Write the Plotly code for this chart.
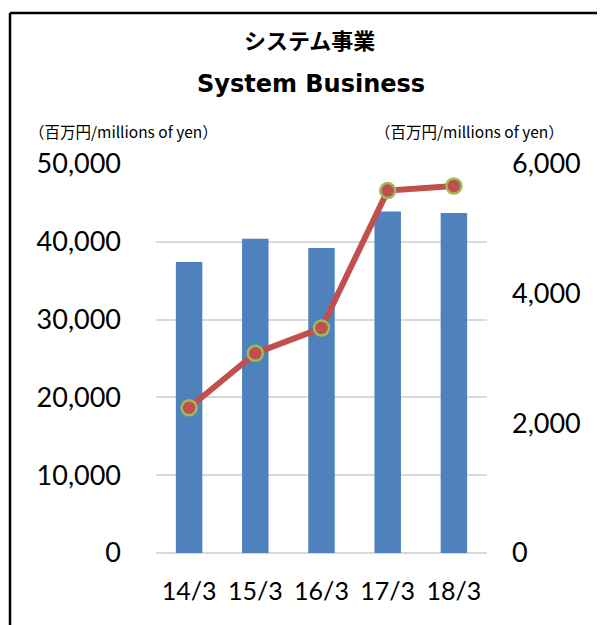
import plotly.graph_objects as go

categories = ["14/3", "15/3", "16/3", "17/3", "18/3"]
sales = [37400, 40400, 39200, 43900, 43700]          # left axis, bars
profit = [2240, 3080, 3470, 5590, 5660]              # right axis, line
left_ticks = [0, 10000, 20000, 30000, 40000, 50000]
right_ticks = [0, 2000, 4000, 6000]

# page has an 8px body margin; work in page pixels and convert
O = 8
W, H = 605, 625
L, R, T, B = 156 - O, 605 - (487 - O), 164 - O, 625 - (553 - O)
pw, ph = W - L - R, H - T - B

def px(x):
    return (x - O - L) / pw

def py(y):
    return (H - B - (y - O)) / ph

fig = go.Figure()
fig.add_trace(go.Bar(x=categories, y=sales, marker=dict(color="#4F81BD", line=dict(width=0)),
                     yaxis="y", hoverinfo="skip"))
fig.add_trace(go.Scatter(x=categories, y=profit, yaxis="y2", mode="lines+markers",
                         line=dict(color="#C0504D", width=6),
                         marker=dict(size=15, color="#C0504D", line=dict(color="#9BBB59", width=2.5))))

tick_font = dict(family="Lato, Open Sans, sans-serif", size=27, color="#000000")

fig.update_layout(
    width=W, height=H,
    margin=dict(l=L, r=R, t=T, b=B),
    paper_bgcolor="white", plot_bgcolor="white",
    showlegend=False,
    bargap=0.6,
    xaxis=dict(showgrid=False, showline=False, zeroline=False, ticks="",
               tickfont=dict(family="Lato, Open Sans, sans-serif", size=25, color="#000000"),
               ticklabelstandoff=21),
    yaxis=dict(range=[0, 50000], tickvals=left_ticks, tickformat=",", showgrid=True,
               gridcolor="#D9D9D9", gridwidth=2, zeroline=True, zerolinecolor="#D9D9D9",
               zerolinewidth=2, showline=False, ticks="", tickfont=tick_font,
               ticklabelstandoff=34),
    yaxis2=dict(range=[0, 6000], tickvals=right_ticks, tickformat=",", overlaying="y",
                side="right", showgrid=False, zeroline=False, showline=False, ticks="",
                tickfont=tick_font, ticklabelstandoff=24),
)

ann_font_jp = "Noto Sans CJK JP, sans-serif"
common = dict(xref="paper", yref="paper", showarrow=False, xanchor="center", yanchor="middle")
fig.add_annotation(text="<b>システム事業</b>", x=px(309), y=py(39),
                   font=dict(family=ann_font_jp, size=22, color="#000000"), **common)
fig.add_annotation(text="<b>System Business</b>", x=px(311), y=py(84),
                   font=dict(family="DejaVu Sans, sans-serif", size=24, color="#000000"), **common)
fig.add_annotation(text="（百万円/millions of yen）", x=px(123), y=py(131),
                   font=dict(family=ann_font_jp, size=15.5, color="#000000"), **common)
fig.add_annotation(text="（百万円/millions of yen）", x=px(469), y=py(131),
                   font=dict(family=ann_font_jp, size=15.5, color="#000000"), **common)

# outer frame (left and top edges)
fig.add_shape(type="line", xref="paper", yref="paper", x0=px(10), x1=px(10), y0=py(13), y1=py(660),
              line=dict(color="#000000", width=2.5))
fig.add_shape(type="line", xref="paper", yref="paper", x0=px(10), x1=px(640), y0=py(13), y1=py(13),
              line=dict(color="#000000", width=2.5))

fig.write_html("out.html")
